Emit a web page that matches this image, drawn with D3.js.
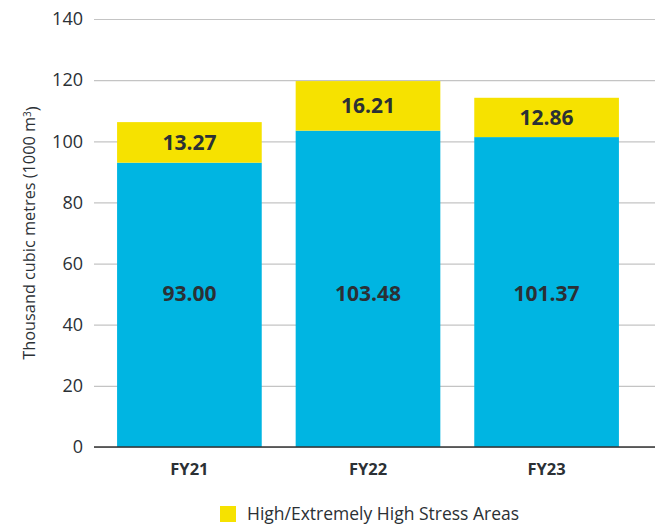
<!DOCTYPE html>
<html lang="en">
<head>
  <meta charset="utf-8">
  <script src="https://cdnjs.cloudflare.com/ajax/libs/d3/7.8.5/d3.min.js"></script>
  <style>
    body { margin: 0; background: #fff; }
    text { font-family: "Open Sans", sans-serif; }
  </style>
</head>
<body>
<script>

var years = ["FY21", "FY22", "FY23"];
var baseValues = [93.00, 103.48, 101.37];
var stressValues = [13.27, 16.21, 12.86];
var yTicks = [0, 20, 40, 60, 80, 100, 120, 140];
var legendLabel = "High/Extremely High Stress Areas";

var width = 659,
    height = 526,
    margin = {top: 19, right: 4, bottom: 79, left: 94};

var blue = "#00b5e2",
    yellow = "#f6e200",
    ink = "#2b3035";

var svg = d3.select("body").append("svg")
    .attr("width", width)
    .attr("height", height);

var x = d3.scaleBand()
    .domain(years)
    .range([margin.left + 7, width - margin.right - 20])
    .paddingInner(0.19)
    .paddingOuter(0.09);

var y = d3.scaleLinear()
    .domain([0, 140])
    .range([height - margin.bottom, margin.top]);

// gridlines + tick labels
var yAxis = svg.append("g")
    .attr("transform", "translate(" + margin.left + ",0)")
    .call(d3.axisLeft(y).tickValues(yTicks).tickSize(-(width - margin.left - margin.right)).tickPadding(11));

yAxis.select(".domain").remove();
yAxis.selectAll(".tick line").attr("stroke", "#c4c4c4").attr("stroke-width", 1.2);
yAxis.selectAll(".tick text")
    .attr("fill", ink)
    .style("font-size", "18px");

// bars
var g = svg.append("g");

g.selectAll(".base")
    .data(years)
  .enter().append("rect")
    .attr("class", "base")
    .attr("x", function(d) { return x(d); })
    .attr("width", x.bandwidth())
    .attr("y", function(d, i) { return y(baseValues[i]); })
    .attr("height", function(d, i) { return y(0) - y(baseValues[i]); })
    .attr("fill", blue);

g.selectAll(".stress")
    .data(years)
  .enter().append("rect")
    .attr("class", "stress")
    .attr("x", function(d) { return x(d); })
    .attr("width", x.bandwidth())
    .attr("y", function(d, i) { return y(baseValues[i] + stressValues[i]); })
    .attr("height", function(d, i) { return y(baseValues[i]) - y(baseValues[i] + stressValues[i]); })
    .attr("fill", yellow);

// value labels
g.selectAll(".base-label")
    .data(years)
  .enter().append("text")
    .attr("x", function(d) { return x(d) + x.bandwidth() / 2; })
    .attr("y", y(50))
    .attr("dy", "0.35em")
    .attr("text-anchor", "middle")
    .attr("fill", ink)
    .style("font-size", "21px")
    .style("font-weight", "700")
    .text(function(d, i) { return baseValues[i].toFixed(2); });

g.selectAll(".stress-label")
    .data(years)
  .enter().append("text")
    .attr("x", function(d) { return x(d) + x.bandwidth() / 2; })
    .attr("y", function(d, i) { return y(baseValues[i] + stressValues[i] / 2); })
    .attr("dy", "0.35em")
    .attr("text-anchor", "middle")
    .attr("fill", ink)
    .style("font-size", "21px")
    .style("font-weight", "700")
    .text(function(d, i) { return stressValues[i].toFixed(2); });

// x axis
var xAxis = svg.append("g")
    .attr("transform", "translate(0," + y(0) + ")")
    .call(d3.axisBottom(x).tickSize(0).tickPadding(16));

xAxis.select(".domain").remove();
xAxis.selectAll(".tick text")
    .attr("fill", ink)
    .style("font-size", "16.5px")
    .style("font-weight", "700");

svg.append("line")
    .attr("x1", margin.left)
    .attr("x2", width - margin.right)
    .attr("y1", y(0))
    .attr("y2", y(0))
    .attr("stroke", "#333")
    .attr("stroke-width", 1.3);

// y title
var title = svg.append("text")
    .attr("transform", "translate(35," + ((y(0) + y(140)) / 2) + ")rotate(-90)")
    .attr("text-anchor", "middle")
    .attr("fill", ink)
    .style("font-size", "16.3px");
title.append("tspan").text("Thousand cubic metres (1000 m");
title.append("tspan").attr("dy", "-0.45em").style("font-size", "10px").text("3");
title.append("tspan").attr("dy", "0.45em").text(")");

// legend
var legend = svg.append("g").attr("transform", "translate(220,506)");
legend.append("rect")
    .attr("width", 16)
    .attr("height", 16)
    .attr("fill", yellow);
legend.append("text")
    .attr("x", 27)
    .attr("y", 8)
    .attr("dy", "0.35em")
    .attr("fill", ink)
    .style("font-size", "17.5px")
    .text(legendLabel);

</script>
</body>
</html>
